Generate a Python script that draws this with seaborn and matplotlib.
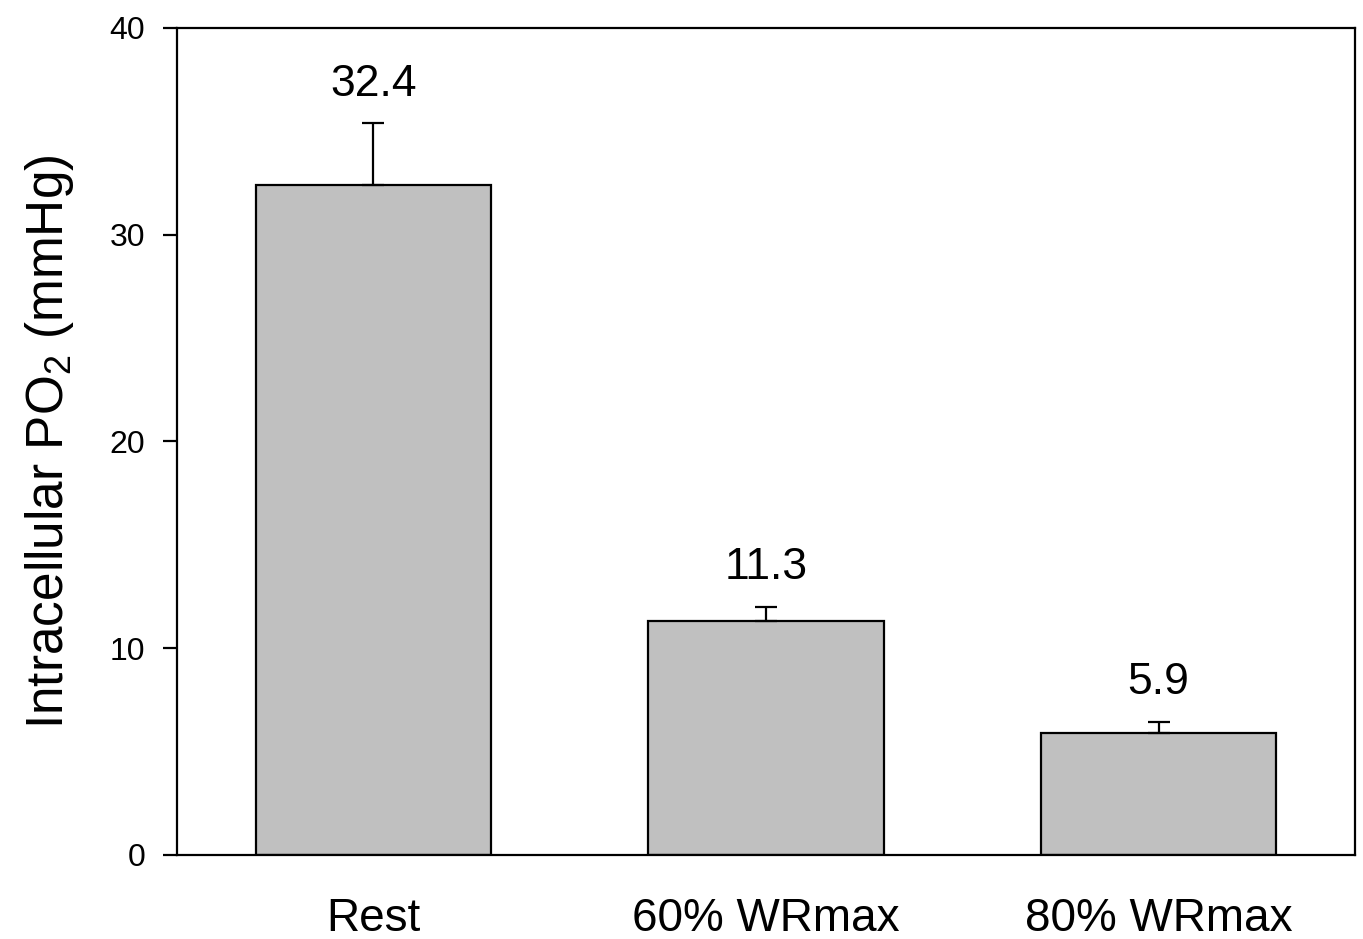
import matplotlib
matplotlib.use("Agg")
import matplotlib.pyplot as plt
import seaborn as sns
import numpy as np

categories = ["Rest", "60% WRmax", "80% WRmax"]
means = [32.4, 11.3, 5.9]
sems = [3.0, 0.7, 0.55]
labels = ["32.4", "11.3", "5.9"]

sns.set_style("white")
plt.rcParams["font.family"] = ["Liberation Sans", "DejaVu Sans"]
plt.rcParams["mathtext.default"] = "regular"

fig = plt.figure(figsize=(13.63, 9.39), dpi=100)
ax = fig.add_axes([0.1299, 0.0895, 0.8642, 0.8807])

sns.barplot(x=categories, y=means, color="#c0c0c0", edgecolor="black",
            linewidth=1.6, width=0.6, saturation=1, ax=ax, errorbar=None)
x = np.arange(len(categories))
ax.errorbar(x, means, yerr=[np.zeros(len(means)), sems], fmt="none",
            ecolor="black", elinewidth=1.6, capsize=8, capthick=1.6)

for xi, m, s, lab in zip(x, means, sems, labels):
    ax.annotate(lab, (xi, m + s), xytext=(0, 28), textcoords="offset points",
                ha="center", va="center", fontsize=32, color="black")

ax.set_xlim(-0.5, 2.5)
ax.set_ylim(0, 40)
ax.set_yticks([0, 10, 20, 30, 40])
ax.tick_params(axis="y", which="both", left=True, direction="out", length=10,
               width=1.6, labelsize=23, pad=13, colors="black")
ax.tick_params(axis="x", bottom=False, labelsize=33, pad=27, colors="black")
for sp in ax.spines.values():
    sp.set_visible(True)
    sp.set_color("black")
    sp.set_linewidth(1.6)
ax.set_ylabel("Intracellular PO$_2$ (mmHg)", fontsize=37, labelpad=24, color="black")
ax.set_xlabel("")

fig.savefig("out.png", dpi=100)
